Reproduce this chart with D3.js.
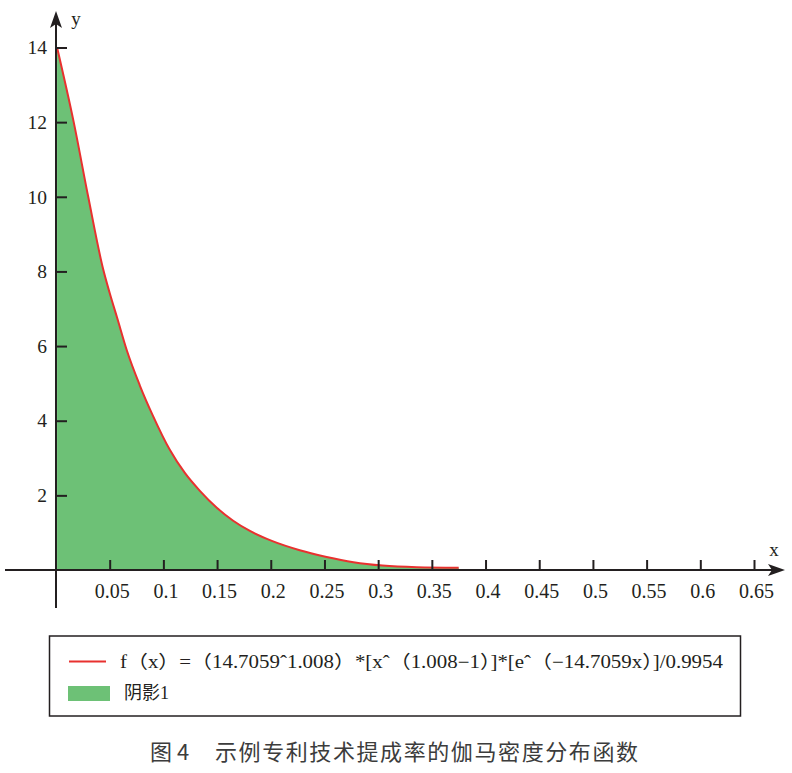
<!DOCTYPE html>
<html>
<head>
<meta charset="utf-8">
<script src="https://cdn.jsdelivr.net/npm/d3@7"></script>
<style>
  body { margin: 0; background: #fff; }
</style>
</head>
<body>
<svg id="chart" width="792" height="773"></svg>
<script>
// values (gamma density curve)
var curveX = [0.001, 0.0165, 0.030, 0.044, 0.050, 0.057, 0.066, 0.078, 0.090, 0.106, 0.120, 0.134,
              0.150, 0.165, 0.181, 0.201, 0.227, 0.252, 0.277, 0.304, 0.336, 0.375]
var curveY = [14.0, 12.0, 10.0, 8.05, 7.42, 6.75, 5.88, 4.95, 4.15, 3.22, 2.60, 2.12,
              1.66, 1.32, 1.04, 0.78, 0.53, 0.35, 0.21, 0.12, 0.075, 0.06]
var xTicks = [0.05, 0.1, 0.15, 0.2, 0.25, 0.3, 0.35, 0.4, 0.45, 0.5, 0.55, 0.6, 0.65]
var yTicks = [2, 4, 6, 8, 10, 12, 14]
var legendLabels = ['f（x）=（14.7059ˆ1.008）*[xˆ（1.008−1）]*[eˆ（−14.7059x）]/0.9954', '阴影1']
var caption = ['图 4', '示例专利技术提成率的伽马密度分布函数']

var axisColor = '#231f20'
var lineColor = '#e8312f'
var fillColor = '#6dc176'
var serif = '"Liberation Serif", "Times New Roman", "Noto Sans CJK SC", serif'
var cjk = '"Noto Sans CJK SC", sans-serif'

var svg = d3.select('#chart')
var x = d3.scaleLinear().domain([0, 0.65]).range([56, 754])
var y = d3.scaleLinear().domain([0, 14]).range([570, 47.5])

var pts = curveX.map(function(d, i) {
    return { x: d, y: curveY[i] }
})

// 阴影区域
var area = d3.area()
    .x(function(d) { return x(d.x) })
    .y0(y(0))
    .y1(function(d) { return y(d.y) })
    .curve(d3.curveMonotoneX)
svg.append('path')
    .datum(pts)
    .attr('d', area)
    .attr('fill', fillColor)

var line = d3.line()
    .x(function(d) { return x(d.x) })
    .y(function(d) { return y(d.y) })
    .curve(d3.curveMonotoneX)
svg.append('path')
    .datum(pts)
    .attr('d', line)
    .attr('fill', 'none')
    .attr('stroke', lineColor)
    .attr('stroke-width', 2)

// x 轴
var gx = svg.append('g')
    .attr('transform', 'translate(0,' + y(0) + ')')
    .call(d3.axisBottom(x).tickValues(xTicks).tickSizeInner(-10).tickSizeOuter(0).tickPadding(14)
        .tickFormat(function(d) { return String(d) }))
gx.select('.domain').remove()
gx.selectAll('.tick line').attr('stroke', axisColor).attr('stroke-width', 2)
gx.selectAll('.tick text')
    .style('font-family', serif).style('font-size', '20px').style('fill', axisColor)
    .attr('dx', 2)

// y 轴
var gy = svg.append('g')
    .attr('transform', 'translate(' + x(0) + ',0)')
    .call(d3.axisLeft(y).tickValues(yTicks).tickSizeInner(-11).tickSizeOuter(0).tickPadding(9))
gy.select('.domain').remove()
gy.selectAll('.tick line').attr('stroke', axisColor).attr('stroke-width', 2)
gy.selectAll('.tick text')
    .style('font-family', serif).style('font-size', '19.5px').style('fill', axisColor)

// 坐标轴及箭头
svg.append('line')
    .attr('x1', 5).attr('x2', 776).attr('y1', y(0)).attr('y2', y(0))
    .attr('stroke', axisColor).attr('stroke-width', 2)
svg.append('path')
    .attr('d', 'M785,' + y(0) + 'L768,' + (y(0) - 6) + 'L772,' + y(0) + 'L768,' + (y(0) + 6) + 'Z')
    .attr('fill', axisColor)
svg.append('line')
    .attr('x1', x(0)).attr('x2', x(0)).attr('y1', 608).attr('y2', 20)
    .attr('stroke', axisColor).attr('stroke-width', 2)
svg.append('path')
    .attr('d', 'M' + x(0) + ',11L' + (x(0) - 6) + ',28L' + x(0) + ',24L' + (x(0) + 6) + ',28Z')
    .attr('fill', axisColor)

svg.append('text').attr('x', 76).attr('y', 25).attr('text-anchor', 'middle')
    .style('font-family', serif).style('font-size', '19px').style('fill', axisColor).text('y')
svg.append('text').attr('x', 774).attr('y', 556).attr('text-anchor', 'middle')
    .style('font-family', serif).style('font-size', '19px').style('fill', axisColor).text('x')

// 图例
var lg = svg.append('g')
lg.append('rect')
    .attr('x', 49.5).attr('y', 636).attr('width', 691).attr('height', 80)
    .attr('fill', 'none').attr('stroke', axisColor).attr('stroke-width', 1.5)
lg.append('line')
    .attr('x1', 69).attr('x2', 106).attr('y1', 661.5).attr('y2', 661.5)
    .attr('stroke', lineColor).attr('stroke-width', 2)
lg.append('text')
    .attr('x', 120).attr('y', 668)
    .attr('textLength', 603).attr('lengthAdjust', 'spacingAndGlyphs')
    .style('font-family', serif).style('font-size', '18px').style('fill', axisColor)
    .text(legendLabels[0])
lg.append('rect')
    .attr('x', 68).attr('y', 686).attr('width', 42).attr('height', 15)
    .attr('fill', fillColor)
lg.append('text')
    .attr('x', 124).attr('y', 699)
    .style('font-family', serif).style('font-size', '18px').style('fill', axisColor)
    .text(legendLabels[1])

// 标题
svg.append('text')
    .attr('x', 150).attr('y', 760)
    .style('font-family', cjk).style('font-size', '22px').style('fill', '#3c3c3c')
    .text(caption[0])
svg.append('text')
    .attr('x', 215).attr('y', 760)
    .attr('textLength', 423).attr('lengthAdjust', 'spacing')
    .style('font-family', cjk).style('font-size', '22px').style('fill', '#3c3c3c')
    .text(caption[1])
</script>
</body>
</html>
